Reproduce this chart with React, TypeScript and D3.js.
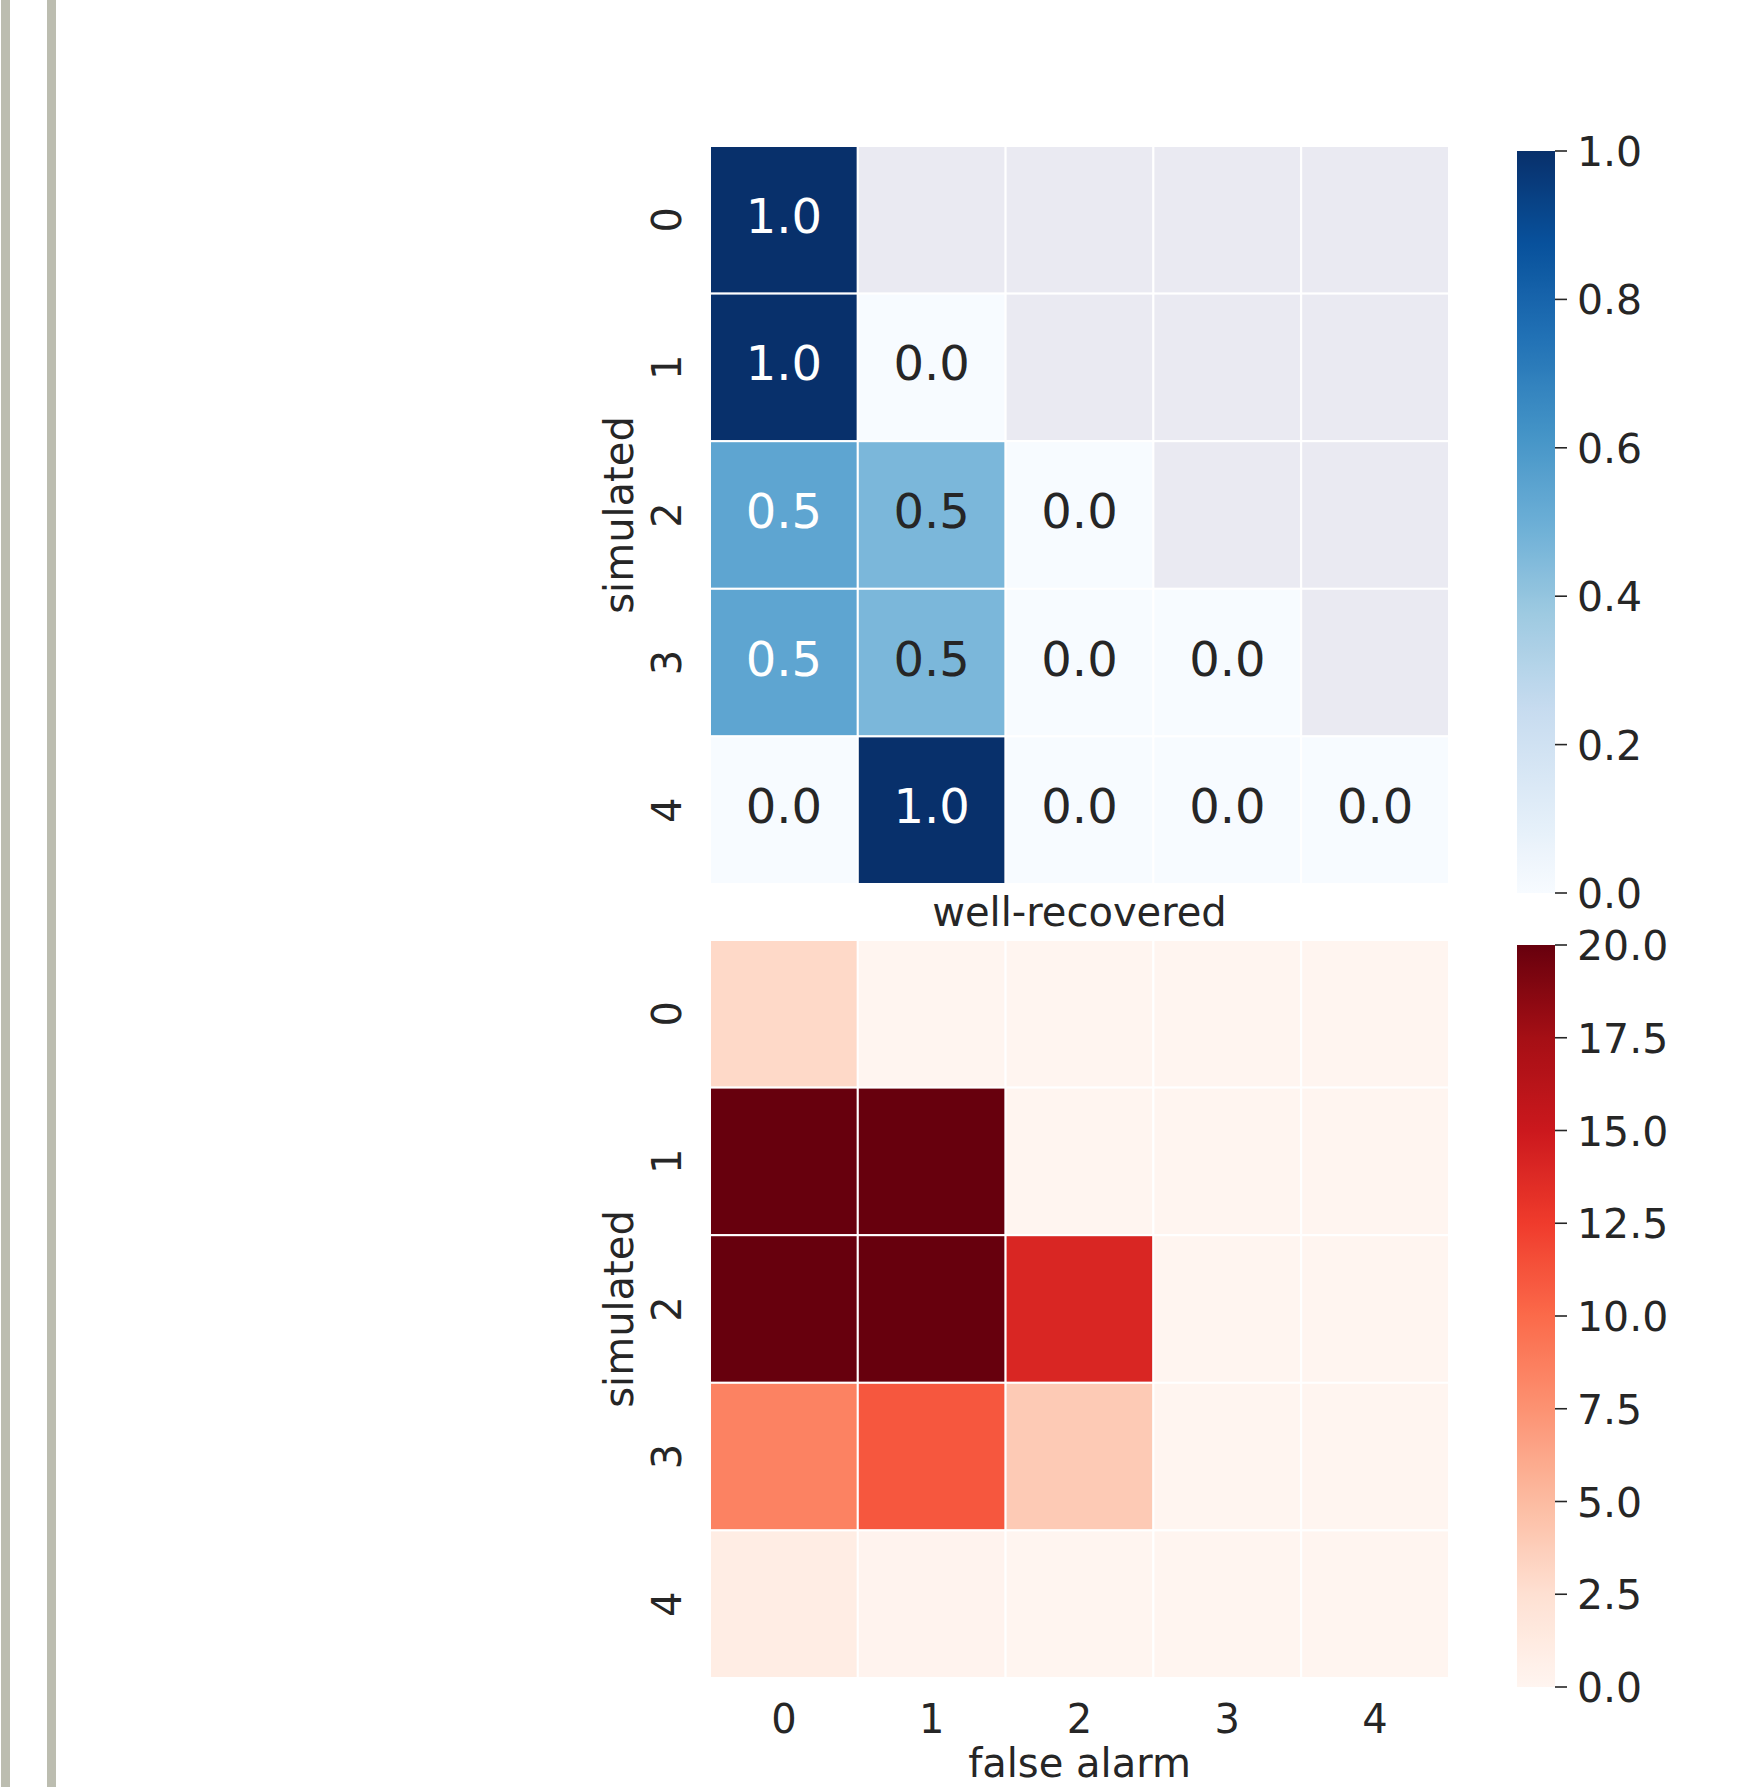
import React from "react";
import * as d3 from "d3";

// ---- data ----
const rowLabels = ["0", "1", "2", "3", "4"];
const colLabels = ["0", "1", "2", "3", "4"];

// top heatmap (well-recovered); null = masked cell
const recoveredRow0 = [1.0, null, null, null, null];
const recoveredRow1 = [1.0, 0.0, null, null, null];
const recoveredRow2 = [0.54, 0.46, 0.0, null, null];
const recoveredRow3 = [0.54, 0.46, 0.0, 0.0, null];
const recoveredRow4 = [0.0, 1.0, 0.0, 0.0, 0.0];

// bottom heatmap (false alarm)
const falseRow0 = [3, 0, 0, 0, 0];
const falseRow1 = [20, 20, 0, 0, 0];
const falseRow2 = [20, 20, 14, 0, 0];
const falseRow3 = [8.5, 11, 4, 0, 0];
const falseRow4 = [1, 0.2, 0, 0, 0];

const blueTicks = [0.0, 0.2, 0.4, 0.6, 0.8, 1.0];
const redTicks = [0, 2.5, 5, 7.5, 10, 12.5, 15, 17.5, 20];

const recovered = [recoveredRow0, recoveredRow1, recoveredRow2, recoveredRow3, recoveredRow4];
const falseAlarm = [falseRow0, falseRow1, falseRow2, falseRow3, falseRow4];

const BLUES = ["#f7fbff", "#deebf7", "#c6dbef", "#9ecae1", "#6baed6", "#4292c6", "#2171b5", "#08519c", "#08306b"];
const REDS = ["#fff5f0", "#fee0d2", "#fcbba1", "#fc9272", "#fb6a4a", "#ef3b2c", "#cb181d", "#a50f15", "#67000d"];
const stops9 = d3.range(9).map((i) => i / 8);

const FONT = "'DejaVu Sans', sans-serif";
const TEXT = "#262626";

function relLum(c: string) {
  const rgb = d3.rgb(c);
  const f = (v: number) => {
    const s = v / 255;
    return s <= 0.03928 ? s / 12.92 : Math.pow((s + 0.055) / 1.055, 2.4);
  };
  return 0.2126 * f(rgb.r) + 0.7152 * f(rgb.g) + 0.0722 * f(rgb.b);
}

type PanelProps = {
  data: (number | null)[][];
  top: number;
  bottom: number;
  cbTop: number;
  cbBottom: number;
  vmax: number;
  colors: string[];
  ticks: number[];
  annotate: boolean;
  xlabel: string;
  xlabelY: number;
  showXTicks: boolean;
  gid: string;
};

function Panel(p: PanelProps) {
  const left = 710;
  const right = 1449;
  const x = d3.scaleBand<string>().domain(colLabels).range([left, right]);
  const y = d3.scaleBand<string>().domain(rowLabels).range([p.top, p.bottom]);
  const norm = d3.scaleLinear().domain([0, p.vmax]).range([0, 1]).clamp(true);
  const cmap = d3.scaleLinear<string>().domain(stops9).range(p.colors).interpolate(d3.interpolateRgb);
  const cbY = d3.scaleLinear().domain([0, p.vmax]).range([p.cbBottom, p.cbTop]);
  const cbX0 = 1517;
  const cbX1 = 1555;
  const fmtTick = (v: number) => v.toFixed(1);

  return (
    <g>
      <defs>
        <linearGradient id={p.gid} x1="0" y1="1" x2="0" y2="0">
          {d3.range(0, 65).map((i) => (
            <stop key={i} offset={`${(i / 64) * 100}%`} stopColor={cmap(i / 64)} />
          ))}
        </linearGradient>
      </defs>
      {p.data.map((row, ri) =>
        row.map((v, ci) => {
          const fill = v === null ? "#eaeaf2" : cmap(norm(v));
          return (
            <rect
              key={`${ri}-${ci}`}
              x={x(colLabels[ci])}
              y={y(rowLabels[ri])}
              width={x.bandwidth()}
              height={y.bandwidth()}
              fill={fill}
              stroke="#ffffff"
              strokeWidth={2}
            />
          );
        })
      )}
      {p.annotate &&
        p.data.map((row, ri) =>
          row.map((v, ci) => {
            if (v === null) return null;
            const fill = cmap(norm(v));
            const tc = relLum(fill) > 0.408 ? TEXT : "#ffffff";
            return (
              <text
                key={`t${ri}-${ci}`}
                x={(x(colLabels[ci]) as number) + x.bandwidth() / 2}
                y={(y(rowLabels[ri]) as number) + y.bandwidth() / 2 - 4}
                textAnchor="middle"
                dominantBaseline="central"
                fontSize={48}
                fontFamily={FONT}
                fill={tc}
              >
                {v.toFixed(1)}
              </text>
            );
          })
        )}
      {/* y tick labels */}
      {rowLabels.map((r) => {
        const cy = (y(r) as number) + y.bandwidth() / 2;
        return (
          <text
            key={`yl${r}`}
            transform={`translate(667,${cy}) rotate(-90)`}
            textAnchor="middle"
            dominantBaseline="central"
            fontSize={40}
            fontFamily={FONT}
            fill={TEXT}
          >
            {r}
          </text>
        );
      })}
      {/* y label */}
      <text
        transform={`translate(633,${(p.top + p.bottom) / 2}) rotate(-90)`}
        textAnchor="middle"
        fontSize={40}
        fontFamily={FONT}
        fill={TEXT}
      >
        simulated
      </text>
      {/* x ticks */}
      {p.showXTicks &&
        colLabels.map((c) => (
          <text
            key={`xl${c}`}
            x={(x(c) as number) + x.bandwidth() / 2}
            y={1733}
            textAnchor="middle"
            fontSize={40}
            fontFamily={FONT}
            fill={TEXT}
          >
            {c}
          </text>
        ))}
      <text x={(left + right) / 2} y={p.xlabelY} textAnchor="middle" fontSize={40} fontFamily={FONT} fill={TEXT}>
        {p.xlabel}
      </text>
      {/* colorbar */}
      <rect x={cbX0} y={p.cbTop} width={cbX1 - cbX0} height={p.cbBottom - p.cbTop} fill={`url(#${p.gid})`} />
      {p.ticks.map((t) => (
        <g key={`cb${t}`}>
          <line x1={cbX1} x2={cbX1 + 12} y1={cbY(t)} y2={cbY(t)} stroke={TEXT} strokeWidth={1.6} />
          <text
            x={1577}
            y={cbY(t) + 1}
            dominantBaseline="central"
            fontSize={41}
            fontFamily={FONT}
            fill={TEXT}
          >
            {fmtTick(t)}
          </text>
        </g>
      ))}
    </g>
  );
}

export default function App() {
  return (
    <svg
      width={1760}
      height={1787}
      style={{ position: "absolute", left: 0, top: 0, background: "#ffffff" }}
    >
      <rect x={0} y={0} width={1760} height={1787} fill="#ffffff" />
      <rect x={1} y={0} width={9} height={1787} fill="#bcbdb0" />
      <rect x={47} y={0} width={9} height={1787} fill="#bcbdb0" />
      <Panel
        data={recovered}
        top={146}
        bottom={884}
        cbTop={151}
        cbBottom={893}
        vmax={1}
        colors={BLUES}
        ticks={blueTicks}
        annotate={true}
        xlabel="well-recovered"
        xlabelY={926}
        showXTicks={false}
        gid="gBlues"
      />
      <Panel
        data={falseAlarm}
        top={940}
        bottom={1678}
        cbTop={945}
        cbBottom={1687}
        vmax={20}
        colors={REDS}
        ticks={redTicks}
        annotate={false}
        xlabel="false alarm"
        xlabelY={1777}
        showXTicks={true}
        gid="gReds"
      />
    </svg>
  );
}
